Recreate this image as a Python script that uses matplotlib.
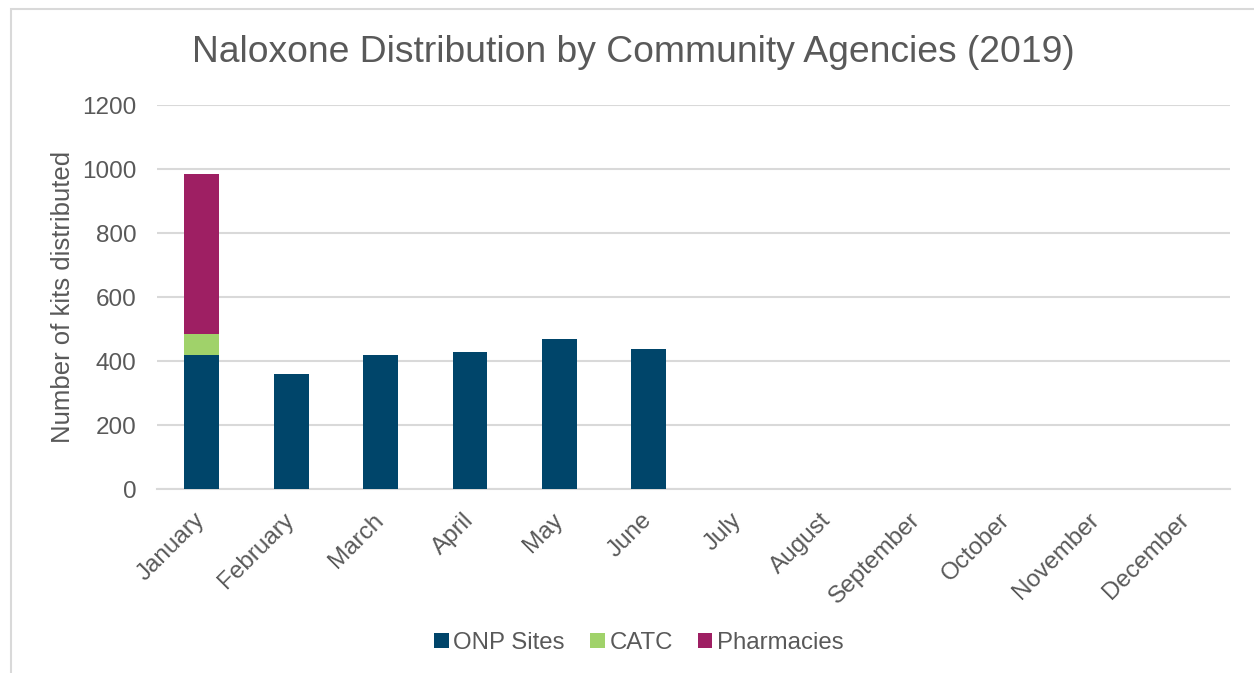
import matplotlib.pyplot as plt
from matplotlib.patches import Rectangle
import numpy as np

plt.rcParams['font.family'] = ['Liberation Sans', 'DejaVu Sans']

meses = ['January', 'February', 'March', 'April', 'May', 'June', 'July',
         'August', 'September', 'October', 'November', 'December']
onp_sites = [419, 358, 420, 427, 469, 437, 0, 0, 0, 0, 0, 0]
catc = [65, 0, 0, 0, 0, 0, 0, 0, 0, 0, 0, 0]
pharmacies = [500, 0, 0, 0, 0, 0, 0, 0, 0, 0, 0, 0]

gris = '#595959'
fig = plt.figure(figsize=(12.54, 6.73), dpi=100)
ax = fig.add_axes([157/1254, 1 - 489/673, (1230-157)/1254, (489-105)/673])

# borde del grafico
fig.patches.append(Rectangle((11/1254, -0.1), 1.2, 1 - 9/673 + 0.1,
                             transform=fig.transFigure, fill=False,
                             edgecolor='#d9d9d9', linewidth=1.5))

x = np.arange(len(meses))
ancho = 0.39
onp = np.array(onp_sites)
ct = np.array(catc)
ax.bar(x, onp, ancho, color='#00456a', label='ONP Sites', zorder=3)
ax.bar(x, ct, ancho, bottom=onp, color='#a0d26a', label='CATC', zorder=3)
ax.bar(x, pharmacies, ancho, bottom=onp + ct, color='#9e1f63', label='Pharmacies', zorder=3)

ax.set_xlim(-0.5, 11.5)
ax.set_ylim(0, 1200)
ax.set_yticks(range(0, 1201, 200))
ax.grid(axis='y', color='#d9d9d9', linewidth=1.5, zorder=0)
for s in ['top', 'right', 'left']:
    ax.spines[s].set_visible(False)
ax.spines['bottom'].set_color('#d9d9d9')
ax.spines['bottom'].set_linewidth(1.5)
ax.tick_params(length=0, labelsize=17.5, labelcolor=gris)
ax.tick_params(axis='y', pad=15)
ax.set_xticks(x)
ax.set_xticklabels(meses, rotation=45, ha='right', va='center', rotation_mode='anchor')
ax.tick_params(axis='x', pad=20)

ax.set_ylabel('Number of kits distributed', fontsize=18.5, color=gris, labelpad=5)
fig.text(633/1254, 1 - 53/673, 'Naloxone Distribution by Community Agencies (2019)',
         ha='center', va='center', fontsize=26.8, color=gris)

fig.legend(loc='center', bbox_to_anchor=(639/1254, 1 - 643/673), ncol=3,
           frameon=False, fontsize=17.3, labelcolor=gris, handlelength=0.6,
           handleheight=0.6, handletextpad=0.2, columnspacing=1.05)

plt.savefig('out.png', dpi=100)
